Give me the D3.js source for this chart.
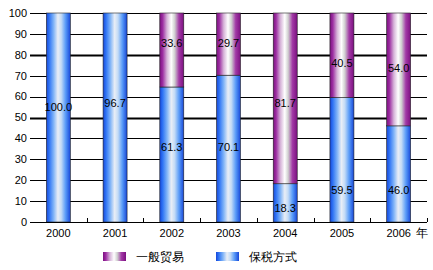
<!DOCTYPE html>
<html>
<head>
<meta charset="utf-8">
<script src="https://cdn.jsdelivr.net/npm/d3@7"></script>
<style>
  body { margin: 0; background: #fff; }
  svg { display: block; }
  text { font-family: "Liberation Sans", Arial, sans-serif; }
</style>
</head>
<body>
<svg width="433" height="270"></svg>
<script>
// data
var years = ["2000", "2001", "2002", "2003", "2004", "2005", "2006"];
var generalTrade = [0, 0, 33.6, 29.7, 81.7, 40.5, 54.0];    // 一般贸易
var bonded = [100.0, 96.7, 61.3, 70.1, 18.3, 59.5, 46.0];    // 保税方式
var yTicks = [0, 10, 20, 30, 40, 50, 60, 70, 80, 90, 100];
var boldTicks = [50, 80];

// where the value labels sit (in axis units)
var bondedLabelAt = [55, 57, 36, 36, 6.7, 15.3, 15.3];
var generalLabelAt = [null, null, 85.6, 85.6, 57, 76, 73.7];

var svg = d3.select("svg"),
    plotL = 30, plotR = 427, plotT = 13, plotB = 222;

var rows = years.map(function(y, i) {
  return {year: y, bonded: bonded[i], general: generalTrade[i]};
});

// 100% stacked
var stack = d3.stack().keys(["bonded", "general"]).offset(d3.stackOffsetExpand);
var series = stack(rows);

var x = d3.scaleBand().domain(years).range([plotL, plotR]).paddingInner(0);
var y = d3.scaleLinear().domain([0, 100]).range([plotB, plotT]);

// gradients
var defs = svg.append("defs");
function grad(id, stops) {
  var g = defs.append("linearGradient").attr("id", id)
    .attr("x1", "0%").attr("x2", "100%").attr("y1", "0%").attr("y2", "0%");
  stops.forEach(function(s) {
    g.append("stop").attr("offset", s[0]).attr("stop-color", s[1]);
  });
}
grad("blueGrad", [
  ["0%", "#1747d8"], ["12%", "#2f74f5"], ["30%", "#7fb3f7"],
  ["48%", "#e9eef6"], ["62%", "#c3dbf6"], ["80%", "#5a9cf8"], ["100%", "#1747d8"]
]);
grad("purpleGrad", [
  ["0%", "#7c0f80"], ["12%", "#9d2ea2"], ["30%", "#d6b3d8"],
  ["48%", "#ffffff"], ["62%", "#d0d0d0"], ["80%", "#a23aa6"], ["100%", "#7c0f80"]
]);

// gridlines
svg.append("g")
  .selectAll("line")
  .data(yTicks.filter(function(d){ return d > 0; }))
  .enter()
  .append("line")
    .attr("x1", plotL)
    .attr("x2", plotR)
    .attr("y1", function(d){ return Math.round(y(d)) + 0.5; })
    .attr("y2", function(d){ return Math.round(y(d)) + 0.5; })
    .attr("stroke", "#000")
    .attr("stroke-width", function(d){ return boldTicks.indexOf(d) >= 0 ? 2 : 1; });

// y labels
svg.append("g")
  .selectAll("text")
  .data(yTicks)
  .enter()
  .append("text")
    .attr("x", 27)
    .attr("y", function(d){ return y(d); })
    .attr("dy", "0.35em")
    .attr("text-anchor", "end")
    .attr("font-size", 11)
    .text(function(d){ return d; });

// bars
var barW = 24;
var fills = {bonded: "url(#blueGrad)", general: "url(#purpleGrad)"};
svg.append("g")
  .selectAll("g")
  .data(series)
  .enter()
  .append("g")
    .attr("fill", function(s){ return fills[s.key]; })
  .selectAll("rect")
  .data(function(s){ return s; })
  .enter()
  .append("rect")
    .attr("x", function(d){ return x(d.data.year) + x.bandwidth()/2 - barW/2; })
    .attr("width", barW)
    .attr("y", function(d){ return y(d[1] * 100); })
    .attr("height", function(d){ return y(d[0] * 100) - y(d[1] * 100); })
    .attr("stroke", "#222")
    .attr("stroke-width", function(d){ return d[1] > d[0] ? 0.6 : 0; });

// x axis line and ticks
svg.append("line")
  .attr("x1", plotL).attr("x2", plotR)
  .attr("y1", plotB + 0.5).attr("y2", plotB + 0.5)
  .attr("stroke", "#000");
svg.append("g")
  .selectAll("line")
  .data(years)
  .enter()
  .append("line")
    .attr("x1", function(d){ return Math.round(x(d) + x.bandwidth()) + 0.5; })
    .attr("x2", function(d){ return Math.round(x(d) + x.bandwidth()) + 0.5; })
    .attr("y1", plotB)
    .attr("y2", plotB - 4)
    .attr("stroke", "#000");

// x labels
svg.append("g")
  .selectAll("text")
  .data(years)
  .enter()
  .append("text")
    .attr("x", function(d){ return x(d) + x.bandwidth()/2; })
    .attr("y", 237)
    .attr("text-anchor", "middle")
    .attr("font-size", 11)
    .text(function(d){ return d; });
svg.append("text")
  .attr("x", x("2006") + x.bandwidth()/2 + 17)
  .attr("y", 237)
  .attr("font-size", 12)
  .attr("font-family", "Noto Sans CJK SC")
  .text("年");

// value labels
function labels(vals, at) {
  svg.append("g")
    .selectAll("text")
    .data(years.filter(function(d, i){ return at[i] != null; }))
    .enter()
    .append("text")
      .attr("x", function(d){ return x(d) + x.bandwidth()/2; })
      .attr("y", function(d){ return y(at[years.indexOf(d)]); })
      .attr("dy", "0.35em")
      .attr("text-anchor", "middle")
      .attr("font-size", 11)
      .text(function(d){ return vals[years.indexOf(d)].toFixed(1); });
}
labels(bonded, bondedLabelAt);
labels(generalTrade, generalLabelAt);

// legend
var legend = [
  {name: "一般贸易", fill: "url(#purpleGrad)", x: 103},
  {name: "保税方式", fill: "url(#blueGrad)", x: 216}
];
var lg = svg.append("g")
  .selectAll("g")
  .data(legend)
  .enter()
  .append("g")
    .attr("transform", function(d){ return "translate(" + d.x + ",252)"; });
lg.append("rect")
  .attr("width", 23).attr("height", 9)
  .attr("fill", function(d){ return d.fill; });
lg.append("text")
  .attr("x", 33)
  .attr("y", 5)
  .attr("dy", "0.35em")
  .attr("font-size", 12)
  .attr("font-family", "Noto Sans CJK SC")
  .text(function(d){ return d.name; });
</script>
</body>
</html>
